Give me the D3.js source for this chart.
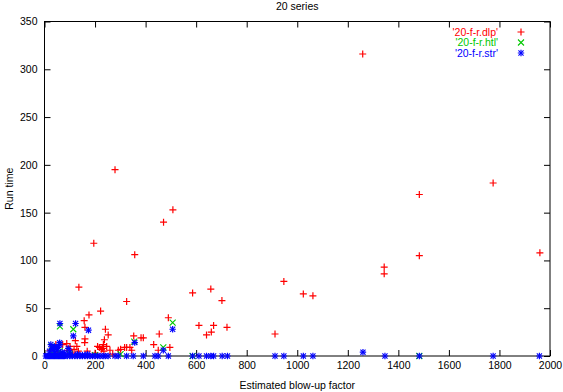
<!DOCTYPE html>
<html><head><meta charset="utf-8">
<script src="https://cdn.jsdelivr.net/npm/d3@7"></script>
<style>body{margin:0;background:#fff}svg{display:block}text{font-family:"Liberation Sans",Arial,sans-serif;font-size:10.5px;fill:#000}</style>
</head><body>
<script>
const title = "20 series";
const xLabel = "Estimated blow-up factor";
const yLabel = "Run time";
const xTicks = [0,200,400,600,800,1000,1200,1400,1600,1800,2000];
const yTicks = [0,50,100,150,200,250,300,350];
const seriesNames = ["'20-f-r.dlp'","'20-f-r.htl'","'20-f-r.str'"];
const seriesColors = ["#ff0000","#00c800","#0000ff"];

const dlp = [[1259,316],[279,195],[508,153],[471,140],[195,118],[357,106],[136,72],[658,70],[1775,181],[1483,169],[1483,105],[1960,108],[1344,93],[1344,86],[586,66],[702,58],[611,32],[669,32],[660,25],[641,22],[722,30],[947,78],[912,23],[1024,65],[1062,63],[325,57],[222,47],[176,43],[157,37],[241,28],[252,22],[160,30],[160,18],[159,14],[237,17],[233,12],[490,40],[454,23],[432,12],[353,21],[382,19],[391,19],[325,9],[317,9],[301,7],[292,6],[338,9],[345,6],[496,9],[450,6],[122,16],[117,7],[88,13],[101,10],[45,12],[72,12],[217,9],[225,7],[235,5],[246,10],[259,6],[169,5],[134,5],[51,4],[22,6],[128,10],[110,3],[60,2],[90,6],[200,3],[210,10],[230,8],[270,2]];
const htl = [[61,31],[114,28],[507,35],[355,15],[470,9],[28,10],[586,0],[1483,0],[301,2],[60,5],[30,3],[100,2],[200,1]];
const str = [[61,34],[123,34],[114,21],[174,27],[507,28],[357,14],[470,6],[61,12],[39,10],[94,8],[1260,4],
 [5,0],[10,0],[15,0],[20,0],[25,0],[30,0],[35,0],[40,0],[45,0],[50,0],[55,0],[60,0],[65,0],[70,0],[75,0],[80,0],[90,0],[100,0],[110,0],[120,0],[130,0],[140,0],[150,0],[160,0],[170,0],[180,0],[190,0],[200,0],[210,0],[220,0],[232,0],[240,0],[252,0],[279,0],[292,0],[325,0],[351,0],[391,0],[437,0],[450,0],[490,0],[586,0],[611,0],[641,0],[658,0],[669,0],[703,0],[724,0],[912,0],[947,0],[1024,0],[1062,0],[1347,0],[1483,0],[1775,0],[1958,0],
 [20,5],[30,8],[40,3],[50,6],[70,4],[80,3],[45,9],[25,12],[35,7],[65,2],[100,4],[130,2],[150,1],[170,2],[60,14],[55,9]];

const W=563,H=392;
const L=44.5,R=550,T=21.5,B=356;
const svg=d3.select("body").append("svg").attr("width",W).attr("height",H);
const x=d3.scaleLinear().domain([0,2000]).range([L,R]);
const y=d3.scaleLinear().domain([0,350]).range([B,T]);

// axes (ticks inward, mirrored)
const tk=6;
const axB=d3.axisBottom(x).tickValues(xTicks).tickSize(-tk).tickPadding(6).tickFormat(d3.format("d"));
const axT=d3.axisTop(x).tickValues(xTicks).tickSize(-tk).tickFormat("");
const axL=d3.axisLeft(y).tickValues(yTicks).tickSize(-tk).tickPadding(7).tickFormat(d3.format("d"));
const axR=d3.axisRight(y).tickValues(yTicks).tickSize(-tk).tickFormat("");
function style(g){g.select(".domain").remove();g.selectAll("line").attr("stroke","#000");g.selectAll("text").style("font-size","10.5px").attr("fill","#000");}
svg.append("g").attr("transform",`translate(0,${B})`).call(axB).call(style);
svg.append("g").attr("transform",`translate(0,${T})`).call(axT).call(style);
svg.append("g").attr("transform",`translate(${L},0)`).call(axL).call(style);
svg.append("g").attr("transform",`translate(${R},0)`).call(axR).call(style);
svg.append("rect").attr("x",L).attr("y",T).attr("width",R-L).attr("height",B-T).attr("fill","none").attr("stroke","#000");

svg.append("text").attr("x",(L+R)/2).attr("y",10).attr("text-anchor","middle").text(title);
svg.append("text").attr("x",(L+R)/2).attr("y",389).attr("text-anchor","middle").text(xLabel);
svg.append("text").attr("transform",`translate(13,${(T+B)/2}) rotate(-90)`).attr("text-anchor","middle").text(yLabel);

function plus(g,cx,cy,c,s){g.append("path").attr("d",`M${cx-s},${cy}H${cx+s}M${cx},${cy-s}V${cy+s}`).attr("stroke",c).attr("stroke-width",1.2).attr("fill","none");}
function cross(g,cx,cy,c,s){g.append("path").attr("d",`M${cx-s},${cy-s}L${cx+s},${cy+s}M${cx-s},${cy+s}L${cx+s},${cy-s}`).attr("stroke",c).attr("stroke-width",1.1).attr("fill","none");}
function star(g,cx,cy,c,s){plus(g,cx,cy,c,s);cross(g,cx,cy,c,s*0.8);}
const markers=[plus,cross,star];
const sizes=[3.5,3,3.2];
const all=[dlp,htl,str];
const gp=svg.append("g");
all.forEach((data,i)=>{
  data.forEach(d=>markers[i](gp,x(d[0]),y(d[1]),seriesColors[i],sizes[i]));
});

// legend
seriesNames.forEach((n,i)=>{
  const ly=32+i*10.5;
  svg.append("text").attr("x",498).attr("y",ly+3.5).attr("text-anchor","end").attr("fill",seriesColors[i]).style("fill",seriesColors[i]).text(n);
  markers[i](svg,521,ly,seriesColors[i],sizes[i]);
});
</script>
</body></html>
